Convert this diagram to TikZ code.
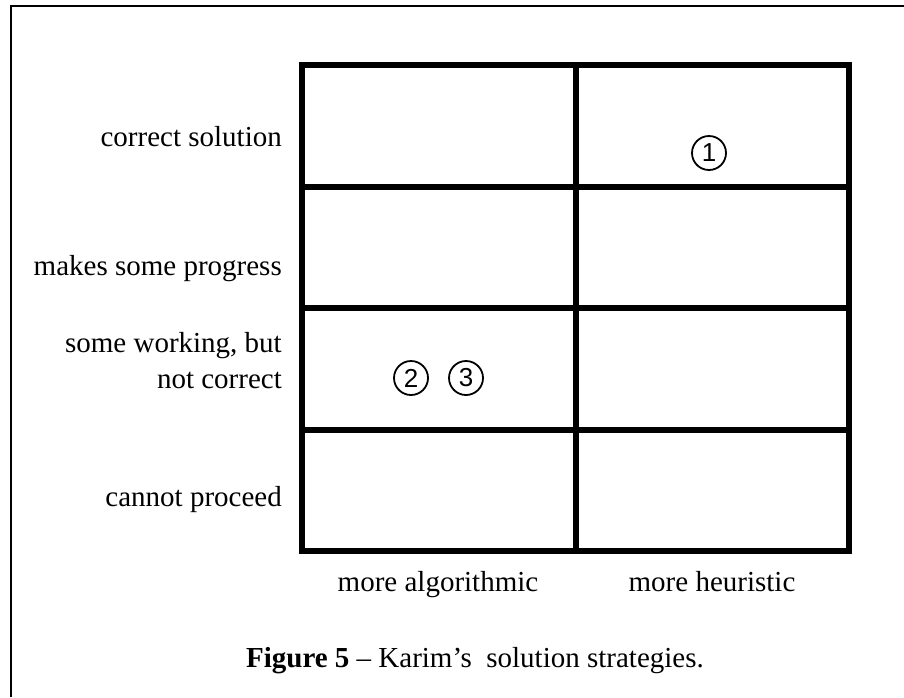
\documentclass[tikz,border=0pt]{standalone}
\usepackage{fontspec}
\setmainfont{Liberation Serif}
\newfontfamily\digitfont{Liberation Sans}
\begin{document}
\begin{tikzpicture}[x=1pt,y=-1pt,
  gridline/.style={line width=6pt, line cap=rect},
  framestyle/.style={line width=2pt},
  rowlabel/.style={anchor=base east, font=\fontsize{29}{36}\selectfont, inner sep=0pt},
  collabel/.style={anchor=base, font=\fontsize{29}{36}\selectfont, inner sep=0pt},
  circnum/.style={draw, circle, line width=1.8pt, minimum size=34pt, inner sep=0pt,
    font=\digitfont\fontsize{26}{26}\selectfont}]
  \useasboundingbox (0,0) rectangle (904,697);
  \fill[white] (0,0) rectangle (904,697);

  % partial frame around the figure
  \draw[framestyle] (904,6) -- (11,6) -- (11,697);

  % 2 x 4 grid
  \draw[gridline] (302,65) rectangle (849,551);
  \draw[gridline] (575.5,65) -- (575.5,551);
  \foreach \yy in {186.5,308,429.5}
    \draw[gridline] (302,\yy) -- (849,\yy);

  % row labels
  \node[rowlabel] (r1) at (282,146) {correct solution};
  \node[rowlabel] (r2) at (282,275) {makes some progress};
  \node[rowlabel] (r3a) at (282,352) {some working, but};
  \node[rowlabel] (r3b) at (282,388) {not correct};
  \node[rowlabel] (r4) at (282,506) {cannot proceed};

  % column labels
  \node[collabel] (c1) at (438,591) {more algorithmic};
  \node[collabel] (c2) at (712,591) {more heuristic};

  % circled markers
  \node[circnum] (m1) at (709,153) {1};
  \node[circnum] (m2) at (411,378) {2};
  \node[circnum] (m3) at (466,378) {3};

  % caption
  \node[collabel] (cap) at (475,667) {\textbf{Figure 5} -- Karim’s \ solution strategies.};
\end{tikzpicture}
\end{document}
